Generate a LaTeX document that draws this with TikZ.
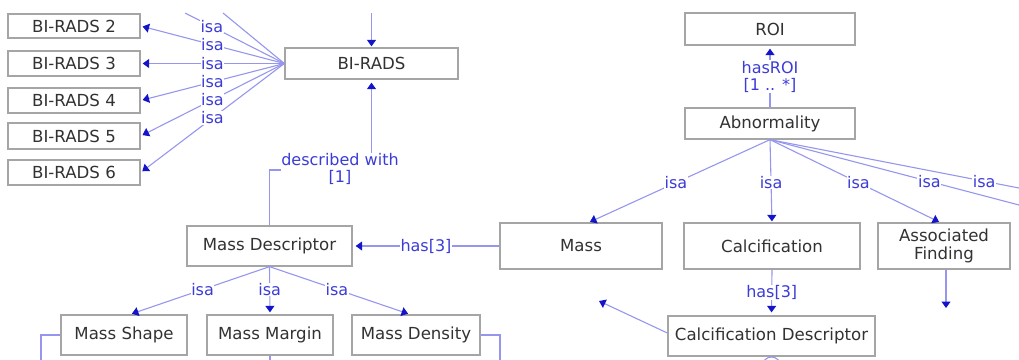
\documentclass[tikz,border=0pt]{standalone}
\usepackage{fontspec}
\newfontfamily\dv{DejaVu Sans}
\usetikzlibrary{arrows.meta}
\definecolor{boxgray}{RGB}{165,165,165}
\definecolor{txtgray}{RGB}{50,50,50}
\definecolor{linkblue}{RGB}{150,150,238}
\definecolor{tipblue}{RGB}{20,20,200}
\definecolor{lblblue}{RGB}{60,60,215}
\begin{document}
\begin{tikzpicture}[x=1pt,y=-1pt,
  box/.style={draw=boxgray,line width=1.3pt,fill=white,text=txtgray,inner sep=0pt,
    font=\dv\fontsize{16.6}{18.5}\selectfont,align=center},
  link/.style={draw=linkblue,line width=1.1pt},
  arr/.style={link,-{Triangle[length=6.5pt,width=9pt,color=tipblue]},shorten >=2pt},
  lbl/.style={text=lblblue,fill=white,inner sep=0.6pt,
    font=\dv\fontsize{16}{17}\selectfont,align=center}]
\useasboundingbox (0,0) rectangle (1019,359);
\clip (0,0) rectangle (1019,359);

% ---------- BI-RADS categories ----------
\node[box,minimum width=173pt,minimum height=31pt] (birads) at (371.5,63.5) {BI-RADS};
\node[box,minimum width=132pt,minimum height=24pt] (br2) at (74,26)    {BI-RADS 2};
\node[box,minimum width=132pt,minimum height=25pt] (br3) at (74,63.5)  {BI-RADS 3};
\node[box,minimum width=132pt,minimum height=25pt] (br4) at (74,100.5) {BI-RADS 4};
\node[box,minimum width=132pt,minimum height=26pt] (br5) at (74,136)   {BI-RADS 5};
\node[box,minimum width=132pt,minimum height=25pt] (br6) at (74,172.5) {BI-RADS 6};

\coordinate (btop) at (371.5,13);
\coordinate (bt1) at (185,13);
\coordinate (bt0) at (223,13);
\draw[arr,shorten >=1pt] (btop) -- (birads.north);
\draw[link] (birads.west) -- (bt1);
\draw[link] (birads.west) -- (bt0);
\foreach \t in {br2,br3,br4,br5,br6}
  \draw[arr] (birads.west) -- (\t.east);
\path (birads.west) -- (bt1) node[lbl,pos=0.73] {isa};
\foreach \t in {br2,br3,br4,br5,br6}
  \path (birads.west) -- (\t.east) node[lbl,pos=0.5] {isa};

% ---------- Mass descriptor ----------
\node[box,minimum width=165pt,minimum height=40pt] (massdesc) at (269.5,246) {Mass Descriptor};
\node[box,minimum width=126pt,minimum height=40pt] (shape)   at (124,335) {Mass Shape};
\node[box,minimum width=126pt,minimum height=40pt] (margin)  at (270,335) {Mass Margin};
\node[box,minimum width=128pt,minimum height=40pt] (density) at (416,335) {Mass Density};

\coordinate (bend) at (371.5,170);
\draw[arr,shorten >=3pt] (massdesc.north) |- (bend) -- (birads.south);
\node[lbl] (dw) at (340,169) {described with\\{[1]}};

\draw[arr] (massdesc.south) -- ([xshift=6pt]shape.north) node[lbl,pos=0.48] {isa};
\draw[arr] (massdesc.south) -- (margin.north) node[lbl,pos=0.48] {isa};
\draw[arr] (massdesc.south) -- ([xshift=-6pt]density.north) node[lbl,pos=0.48] {isa};

\coordinate (sl) at (41,365);
\coordinate (dr) at (500,365);
\coordinate (mb) at (270,365);
\draw[link] (shape.west) -| (sl);
\draw[link] (density.east) -| (dr);
\draw[link] (margin.south) -- (mb);

% ---------- Abnormality ----------
\node[box,minimum width=170pt,minimum height=32pt] (roi) at (770,29) {ROI};
\node[box,minimum width=170pt,minimum height=31pt] (abn) at (770,123.5) {Abnormality};
\node[box,minimum width=162pt,minimum height=46pt] (mass)  at (581,246) {Mass};
\node[box,minimum width=176pt,minimum height=46pt] (calc)  at (772,246) {Calcification};
\node[box,minimum width=132pt,minimum height=46pt] (assoc) at (944,246) {Associated\\Finding};
\node[box,minimum width=207pt,minimum height=40pt] (calcdesc) at (771.5,336) {Calcification Descriptor};

\draw[arr,shorten >=3pt] (abn.north) -- (roi.south) node[lbl,midway] {hasROI\\{[1 .. *]}};

\draw[arr,shorten >=3pt] (mass.west) -- (mass.west -| massdesc.east) node[lbl,midway] {has[3]};

\coordinate (fr1) at (1019,205);
\coordinate (fr2) at (1019,188);
\draw[arr,shorten >=1pt] (abn.south) -- ([xshift=8pt]mass.north);
\draw[arr,shorten >=1pt] (abn.south) -- (calc.north);
\draw[arr,shorten >=1pt] (abn.south) -- ([xshift=-4pt]assoc.north);
\draw[link] (abn.south) -- (fr1);
\draw[link] (abn.south) -- (fr2);
\path (abn.south) -- ([xshift=8pt]mass.north) node[lbl,pos=0.52] {isa};
\path (abn.south) -- (calc.north) node[lbl,pos=0.52] {isa};
\path (abn.south) -- ([xshift=-4pt]assoc.north) node[lbl,pos=0.52] {isa};
\path (abn.south) -- (fr1) node[lbl,pos=0.64] {isa};
\path (abn.south) -- (fr2) node[lbl,pos=0.86] {isa};

\draw[arr,shorten >=3pt] (calc.south) -- (calcdesc.north) node[lbl,midway] {has[3]};

\coordinate (ad) at (946,308);
\draw[arr,shorten >=0pt] ([xshift=2pt]assoc.south) -- (ad);

\coordinate (cl) at (599,301);
\draw[arr,shorten >=0pt] ([yshift=3pt]calcdesc.west) -- (cl);

\coordinate (lp) at (771.5,366);
\draw[link] (lp) circle[radius=9pt];
\end{tikzpicture}
\end{document}
